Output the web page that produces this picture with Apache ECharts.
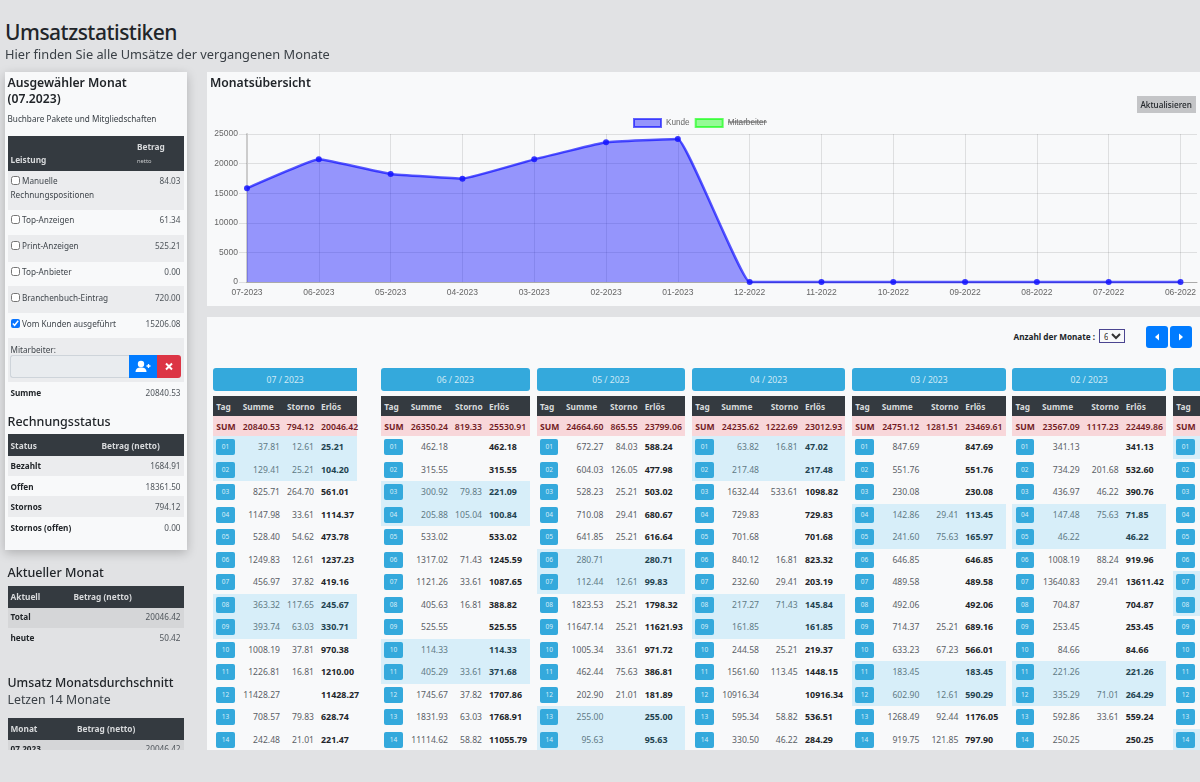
<!DOCTYPE html>
<html lang="de">
<head>
<meta charset="utf-8">
<title>Umsatzstatistiken</title>
<script src="https://cdn.jsdelivr.net/npm/echarts@6/dist/echarts.min.js"></script>
<style>
  html, body { margin: 0; padding: 0; width: 1200px; height: 782px; overflow: hidden; background: #e1e2e4; }
  body { font-family: "Noto Sans", "Open Sans", sans-serif; color: #212529; }
  #page { position: absolute; left: 0; top: 0; width: 1200px; height: 750px; overflow: hidden; }
  .abs { position: absolute; white-space: nowrap; }
  .panel { position: absolute; background: #f8f9fa; }
  input[type=checkbox] { position: absolute; margin: 0; width: 9px; height: 9px; accent-color: #0a75ff; }
</style>
</head>
<body>
<div id="page">
  <div class="panel" style="left:5px;top:72px;width:182px;height:478px;box-shadow:0 3px 10px rgba(0,0,0,.22)"></div>
  <div class="panel" style="left:207px;top:72px;width:993px;height:234px"></div>
  <div class="panel" style="left:207px;top:317px;width:993px;height:433px"></div>
  <div id="chart" style="position:absolute;left:207px;top:72px;width:993px;height:234px"></div>
</div>
<script>
// Diagramm
const chartMonths = ['07-2023', '06-2023', '05-2023', '04-2023', '03-2023', '02-2023', '01-2023', '12-2022', '11-2022', '10-2022', '09-2022', '08-2022', '07-2022', '06-2022'];
const kundeValues = [15830, 20720, 18240, 17460, 20720, 23590, 24160, 0, 0, 0, 0, 0, 0, 0];
const mitarbeiterValues = [];
const yTicks = { max: 25000, step: 5000 };

// Monatstabellen
const monthTitles = ['07 / 2023', '06 / 2023', '05 / 2023', '04 / 2023', '03 / 2023', '02 / 2023'];
const monthSums = [
  [20840.53, 794.12, 20046.42],
  [26350.24, 819.33, 25530.91],
  [24664.60, 865.55, 23799.06],
  [24235.62, 1222.69, 23012.93],
  [24751.12, 1281.51, 23469.61],
  [23567.09, 1117.23, 22449.86]
];
const summe0723 = [37.81, 129.41, 825.71, 1147.98, 528.40, 1249.83, 456.97, 363.32, 393.74, 1008.19, 1226.81, 11428.27, 708.57, 242.48];
const storno0723 = [12.61, 25.21, 264.70, 33.61, 54.62, 12.61, 37.82, 117.65, 63.03, 37.81, 16.81, null, 79.83, 21.01];
const erloes0723 = [25.21, 104.20, 561.01, 1114.37, 473.78, 1237.23, 419.16, 245.67, 330.71, 970.38, 1210.00, 11428.27, 628.74, 221.47];
const summe0623 = [462.18, 315.55, 300.92, 205.88, 533.02, 1317.02, 1121.26, 405.63, 525.55, 114.33, 405.29, 1745.67, 1831.93, 11114.62];
const storno0623 = [null, null, 79.83, 105.04, null, 71.43, 33.61, 16.81, null, null, 33.61, 37.82, 63.03, 58.82];
const erloes0623 = [462.18, 315.55, 221.09, 100.84, 533.02, 1245.59, 1087.65, 388.82, 525.55, 114.33, 371.68, 1707.86, 1768.91, 11055.79];
const summe0523 = [672.27, 604.03, 528.23, 710.08, 641.85, 280.71, 112.44, 1823.53, 11647.14, 1005.34, 462.44, 202.90, 255.00, 95.63];
const storno0523 = [84.03, 126.05, 25.21, 29.41, 25.21, null, 12.61, 25.21, 25.21, 33.61, 75.63, 21.01, null, null];
const erloes0523 = [588.24, 477.98, 503.02, 680.67, 616.64, 280.71, 99.83, 1798.32, 11621.93, 971.72, 386.81, 181.89, 255.00, 95.63];
const summe0423 = [63.82, 217.48, 1632.44, 729.83, 701.68, 840.12, 232.60, 217.27, 161.85, 244.58, 1561.60, 10916.34, 595.34, 330.50];
const storno0423 = [16.81, null, 533.61, null, null, 16.81, 29.41, 71.43, null, 25.21, 113.45, null, 58.82, 46.22];
const erloes0423 = [47.02, 217.48, 1098.82, 729.83, 701.68, 823.32, 203.19, 145.84, 161.85, 219.37, 1448.15, 10916.34, 536.51, 284.29];
const summe0323 = [847.69, 551.76, 230.08, 142.86, 241.60, 646.85, 489.58, 492.06, 714.37, 633.23, 183.45, 602.90, 1268.49, 919.75];
const storno0323 = [null, null, null, 29.41, 75.63, null, null, null, 25.21, 67.23, null, 12.61, 92.44, 121.85];
const erloes0323 = [847.69, 551.76, 230.08, 113.45, 165.97, 646.85, 489.58, 492.06, 689.16, 566.01, 183.45, 590.29, 1176.05, 797.90];
const summe0223 = [341.13, 734.29, 436.97, 147.48, 46.22, 1008.19, 13640.83, 704.87, 253.45, 84.66, 221.26, 335.29, 592.86, 250.25];
const storno0223 = [null, 201.68, 46.22, 75.63, null, 88.24, 29.41, null, null, null, null, 71.01, 33.61, null];
const erloes0223 = [341.13, 532.60, 390.76, 71.85, 46.22, 919.96, 13611.42, 704.87, 253.45, 84.66, 221.26, 264.29, 559.24, 250.25];
const monthSumme = [summe0723, summe0623, summe0523, summe0423, summe0323, summe0223];
const monthStorno = [storno0723, storno0623, storno0523, storno0423, storno0323, storno0223];
const monthErloes = [erloes0723, erloes0623, erloes0523, erloes0423, erloes0323, erloes0223];
const weekendRows = [[1, 2, 8, 9], [3, 4, 10, 11], [6, 7, 13, 14], [1, 2, 8, 9], [4, 5, 11, 12], [4, 5, 11, 12], [1, 7, 8, 14]];

// Linke Spalte
const serviceNames = ['Top-Anzeigen', 'Print-Anzeigen', 'Top-Anbieter', 'Branchenbuch-Eintrag', 'Vom Kunden ausgeführt'];
const serviceValues = ['61.34', '525.21', '0.00', '720.00', '15206.08'];
const statusNames = ['Bezahlt', 'Offen', 'Stornos', 'Stornos (offen)'];
const statusValues = ['1684.91', '18361.50', '794.12', '0.00'];

const page = document.getElementById('page');

// kleine helfer, alles absolut positioniert
function rect(x, y, w, h, bg, extra) {
  const d = document.createElement('div');
  d.className = 'abs';
  d.style.cssText += `left:${x}px;top:${y}px;width:${w}px;height:${h}px;background:${bg};${extra || ''}`;
  page.appendChild(d);
  return d;
}
function text(str, x, cy, size, color, opts) {
  opts = opts || {};
  const d = document.createElement('div');
  d.className = 'abs';
  d.textContent = str;
  const pos = opts.right ? `right:${1200 - x}px` : `left:${x}px`;
  d.style.cssText += `${pos};top:${cy - 10}px;height:20px;line-height:20px;font-size:${size}px;color:${color};font-weight:${opts.weight || 400};${opts.css || ''}`;
  page.appendChild(d);
  return d;
}
const fmt = v => v === null ? '' : v.toFixed(2);

// Kopf
text('Umsatzstatistiken', 5, 32, 21, '#212529', { weight: 500, css: 'letter-spacing:-0.5px' });
text('Hier finden Sie alle Umsätze der vergangenen Monate', 5, 54, 12.8, '#3a4046');

// Ausgewählter Monat
text('Ausgewähler Monat', 7.5, 83, 12.2, '#212529', { weight: 600 });
text('(07.2023)', 7.5, 99, 12.2, '#212529', { weight: 600 });
text('Buchbare Pakete und Mitgliedschaften', 7.5, 119, 8.2, '#3a4046');

rect(7.5, 136, 176.5, 34.5, '#343a40');
text('Betrag', 137, 147, 8.3, '#d8dadc', { weight: 700 });
text('netto', 137, 160.5, 5.8, '#c8cacc');
text('Leistung', 10.5, 160, 8.3, '#d8dadc', { weight: 700 });

rect(7.5, 170.5, 176.5, 39.5, '#ebecee');
rect(7.5, 235, 176.5, 26.5, '#ebecee');
rect(7.5, 286, 176.5, 26.5, '#ebecee');
rect(7.5, 338, 176.5, 43.5, '#ebecee');

function checkbox(x, y, checked) {
  const c = document.createElement('input');
  c.type = 'checkbox';
  c.checked = checked;
  c.style.left = x + 'px';
  c.style.top = y + 'px';
  page.appendChild(c);
}
checkbox(10.5, 176, false);
text('Manuelle', 22, 181, 8.2, '#3f454b');
text('Rechnungspositionen', 10.5, 194.5, 8.2, '#3f454b');
text('84.03', 180.5, 181, 8.2, '#4f555b', { right: true });
const serviceY = [220, 246, 271.5, 297.5, 323.5];
serviceNames.forEach((name, i) => {
  checkbox(10.5, serviceY[i] - 5, i === 4);
  text(name, 22, serviceY[i], 8.2, '#3f454b');
  text(serviceValues[i], 180.5, serviceY[i], 8.2, '#4f555b', { right: true });
});

text('Mitarbeiter:', 10.5, 349.5, 8.2, '#3f454b');
rect(10, 355, 118.5, 23, '#e9ecef', 'border:1px solid #ced4da;border-right:0;border-radius:3px 0 0 3px;box-sizing:border-box');
const addBtn = rect(128.5, 355, 28.5, 23, '#007bff');
addBtn.innerHTML = '<svg width="28" height="23" viewBox="0 0 28 23"><circle cx="12" cy="9" r="3.2" fill="#fff"/><path d="M6.5 17c0-3.2 2.2-4.6 5.5-4.6s5.500 1.400 5.500 4.600z" fill="#fff"/><path d="M17.500 11h4M19.500 9v4" stroke="#fff" stroke-width="1.300"/></svg>';
const delBtn = rect(157, 355, 24, 23, '#dc3545', 'border-radius:0 3px 3px 0');
delBtn.innerHTML = '<svg width="24" height="23" viewBox="0 0 24 23"><path d="M9 8.500l6 6M15 8.500l-6 6" stroke="#fff" stroke-width="2"/></svg>';

text('Summe', 10.5, 392.5, 8.2, '#212529', { weight: 700 });
text('20840.53', 180.5, 392.5, 8.2, '#4f555b', { right: true });

// Rechnungsstatus
text('Rechnungsstatus', 7.5, 421.5, 12.5, '#212529', { weight: 500 });
rect(7.5, 434, 176.5, 22, '#343a40');
text('Status', 10.5, 445.5, 8.3, '#d8dadc', { weight: 700 });
text('Betrag (netto)', 101.5, 445.5, 8.3, '#d8dadc', { weight: 700 });
rect(7.5, 456, 176.5, 20, '#ebecee');
rect(7.5, 496, 176.5, 20.5, '#ebecee');
statusNames.forEach((name, i) => {
  const cy = 466 + i * 20.5;
  text(name, 10.5, cy, 8.2, '#212529', { weight: 700 });
  text(statusValues[i], 180.5, cy, 8.2, '#4f555b', { right: true });
});

// Aktueller Monat
text('Aktueller Monat', 7.5, 572.5, 12.5, '#212529', { weight: 500 });
rect(7.5, 585.5, 176.5, 22, '#343a40');
text('Aktuell', 10.5, 597, 8.3, '#d8dadc', { weight: 700 });
text('Betrag (netto)', 73.5, 597, 8.3, '#d8dadc', { weight: 700 });
rect(7.5, 607.5, 176.5, 20, '#d5d6d8');
text('Total', 10.5, 617, 8.2, '#212529', { weight: 700 });
text('20046.42', 180.5, 617, 8.2, '#4f555b', { right: true });
text('heute', 10.5, 637.5, 8.2, '#212529', { weight: 700 });
text('50.42', 180.5, 637.5, 8.2, '#4f555b', { right: true });

// Monatsdurchschnitt
text('Umsatz Monatsdurchschnitt', 7.5, 682.5, 12.3, '#212529', { weight: 500 });
text('Letzen 14 Monate', 7.5, 699.5, 12.3, '#3a4046');
rect(7.5, 717.5, 176.5, 22, '#343a40');
text('Monat', 10.5, 729, 8.3, '#d8dadc', { weight: 700 });
text('Betrag (netto)', 77, 729, 8.3, '#d8dadc', { weight: 700 });
rect(7.5, 739.5, 176.5, 11, '#d5d6d8');
text('07.2023', 10.5, 749, 8.2, '#212529', { weight: 700 });
text('20046.42', 180.5, 749, 8.2, '#4f555b', { right: true });

// Chart-Kopf
text('Monatsübersicht', 210, 83, 12.2, '#212529', { weight: 600 });
rect(1137, 96, 59, 17, '#c4c5c7');
text('Aktualisieren', 1140.5, 104.5, 8.2, '#212529', { weight: 500 });

// Tabellenkopf rechts
text('Anzahl der Monate :', 1013.5, 336.5, 8.2, '#212529', { weight: 700 });
const sel = document.createElement('select');
sel.innerHTML = '<option>6</option>';
sel.style.cssText = 'position:absolute;left:1099px;top:329px;width:26px;height:14px;padding:0;margin:0;border:1px solid #4b4590;background:#f8f9fa;font:8px "Noto Sans";color:#333;box-sizing:border-box';
page.appendChild(sel);
rect(1146, 326, 22, 22, '#007bff', 'border-radius:3px').innerHTML = '<svg width="22" height="22" viewBox="0 0 22 22"><path d="M13 7.500v7l-4-3.500z" fill="#fff"/></svg>';
rect(1170, 326, 22, 22, '#007bff', 'border-radius:3px').innerHTML = '<svg width="22" height="22" viewBox="0 0 22 22"><path d="M9 7.500v7l4-3.500z" fill="#fff"/></svg>';

// Monatstabellen zeichnen
const tableLayout = [
  { x: 213, w: 144.3, sumH: 29.7, sumR: 67, stoH: 74, stoR: 101, erl: 108, radius: '3px 0 0 3px' },
  { x: 381, w: 148.7, sumH: 29.7, sumR: 67, stoH: 74, stoR: 101, erl: 108, radius: '3px' },
  { x: 536.7, w: 148.3, sumH: 29.3, sumR: 66.7, stoH: 73.3, stoR: 101, erl: 108, radius: '3px' },
  { x: 692, w: 153, sumH: 29.3, sumR: 67, stoH: 78.7, stoR: 105.7, erl: 113, radius: '3px' },
  { x: 852, w: 154, sumH: 29.7, sumR: 67.3, stoH: 79, stoR: 106.3, erl: 113.3, radius: '3px' },
  { x: 1012.3, w: 153.7, sumH: 29.7, sumR: 67.4, stoH: 79, stoR: 106.4, erl: 113.4, radius: '3px' },
  { x: 1173, w: 27, radius: '3px 0 0 3px' }
];
const ROW_TOP = 436, ROW_H = 22.5;
tableLayout.forEach((t, m) => {
  rect(t.x, 368, t.w, 23, '#34a9dc', `border-radius:${t.radius}`);
  rect(t.x, 396, t.w, 20, '#343a40');
  rect(t.x, 416, t.w, 20, '#f8d7da');
  text('Tag', t.x + 3.3, 406.5, 8.3, '#d8dadc', { weight: 700 });
  text('SUM', t.x + 3.3, 426.5, 8.6, '#721c24', { weight: 700 });
  weekendRows[m].forEach(r => rect(t.x, ROW_TOP + (r - 1) * ROW_H, t.w, ROW_H, '#d7eef9'));
  for (let r = 0; r < 14; r++) {
    const cy = ROW_TOP + r * ROW_H + 11;
    const hi = weekendRows[m].includes(r + 1);
    const badge = rect(t.x + 3.3, cy - 8, 18.4, 16, '#34a9dc', 'border-radius:2px;text-align:center;font-size:6.5px;line-height:16px;color:#d9eef8');
    badge.textContent = String(r + 1).padStart(2, '0');
    if (m === 6) continue;
    const grey = hi ? '#5f7a85' : '#5a6066';
    text(fmt(monthSumme[m][r]), t.x + t.sumR, cy, 8.6, grey, { right: true });
    text(fmt(monthStorno[m][r]), t.x + t.stoR, cy, 8.6, grey, { right: true });
    text(fmt(monthErloes[m][r]), t.x + t.erl, cy, 8.9, hi ? '#1f4350' : '#212529', { weight: 700 });
  }
  if (m === 6) return;
  text(monthTitles[m], t.x, 380, 8.6, '#cfeaf6', { css: `width:${t.w}px;text-align:center` });
  text('Summe', t.x + t.sumH, 406.5, 8.3, '#d8dadc', { weight: 700 });
  text('Storno', t.x + t.stoH, 406.5, 8.3, '#d8dadc', { weight: 700 });
  text('Erlös', t.x + t.erl, 406.5, 8.3, '#d8dadc', { weight: 700 });
  text(fmt(monthSums[m][0]), t.x + t.sumR, 426.5, 8.7, '#721c24', { right: true, weight: 600 });
  text(fmt(monthSums[m][1]), t.x + t.stoR, 426.5, 8.7, '#721c24', { right: true, weight: 600 });
  text(fmt(monthSums[m][2]), t.x + t.erl, 426.5, 8.7, '#721c24', { weight: 600 });
});

// Chart
const gridColor = 'rgba(0,0,0,0.1)';
const labelFont = { color: '#666', fontFamily: '"Liberation Sans", Arial, sans-serif', fontSize: 8.5 };
const chart = echarts.init(document.getElementById('chart'), null, { renderer: 'canvas' });
chart.setOption({
  animation: false,
  legend: {
    left: 426, top: 46, itemWidth: 27, itemHeight: 8, itemGap: 5, padding: 0,
    textStyle: { ...labelFont, fontSize: 8.2 },
    data: [
      { name: 'Kunde', icon: 'rect', itemStyle: { color: 'rgba(0,0,255,0.4)', borderColor: 'rgba(0,0,255,0.6)', borderWidth: 2 } },
      { name: 'Mitarbeiter', icon: 'rect', itemStyle: { color: 'rgba(0,255,0,0.4)', borderColor: 'rgba(0,255,0,0.6)', borderWidth: 2 } }
    ]
  },
  graphic: [
    // durchgestrichener Legendentext
    { type: 'line', shape: { x1: 521, y1: 50, x2: 560, y2: 50 }, style: { stroke: '#666', lineWidth: 1 } }
  ],
  grid: { left: 40, top: 62, right: 3, bottom: 24 },
  xAxis: {
    type: 'value', min: 0, max: 13.23, interval: 1,
    axisLine: { show: true, onZero: false, lineStyle: { color: '#aaa', width: 1 } },
    axisTick: { show: false },
    axisLabel: { ...labelFont, margin: 6, showMaxLabel: false, formatter: v => chartMonths[v] || '' },
    splitLine: { show: true, showMaxLine: false, lineStyle: { color: gridColor } }
  },
  yAxis: {
    type: 'value', min: 0, max: yTicks.max, interval: yTicks.step,
    axisLine: { show: true, lineStyle: { color: '#ccc', width: 2 } },
    axisTick: { show: true, length: 8, lineStyle: { color: gridColor } },
    axisLabel: { ...labelFont, margin: 9, formatter: v => String(v) },
    splitLine: { show: true, lineStyle: { color: gridColor } }
  },
  series: [
    {
      name: 'Kunde', type: 'line', data: kundeValues.map((v, i) => [i, v]),
      smooth: 0.08, clip: false,
      symbol: 'circle', symbolSize: 6,
      itemStyle: { color: 'rgba(20,20,255,0.85)' },
      lineStyle: { color: 'rgba(0,0,255,0.65)', width: 2.5 },
      areaStyle: { color: 'rgba(0,0,255,0.4)', opacity: 1 }
    },
    { name: 'Mitarbeiter', type: 'line', data: mitarbeiterValues, itemStyle: { color: 'rgba(0,255,0,0.4)' } }
  ]
});
</script>
</body>
</html>
